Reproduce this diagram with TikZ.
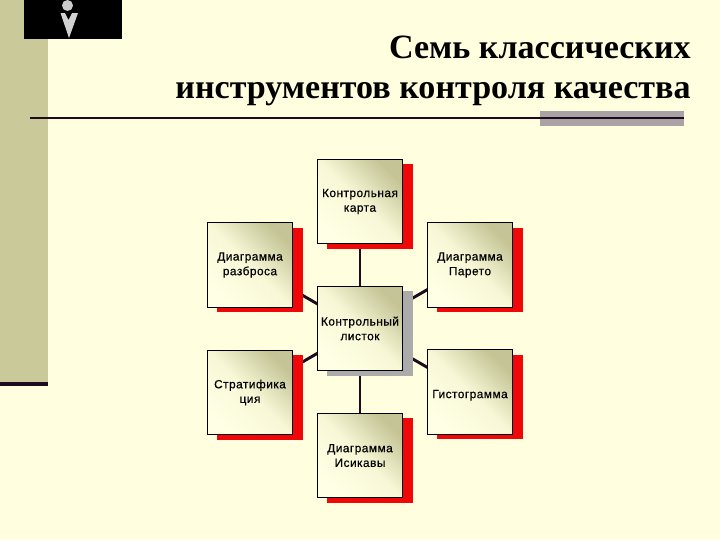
\documentclass[tikz,border=0pt]{standalone}
\usepackage{fontspec}
\setmainfont{Liberation Serif}
\newfontfamily\boxfont[FakeBold=0.5,LetterSpace=4]{Liberation Sans}
\usetikzlibrary{shadows,backgrounds}
\definecolor{pagebg}{HTML}{FFFFE0}
\definecolor{band}{HTML}{C9C99A}
\definecolor{darkline}{HTML}{1E0A1E}
\definecolor{barbg}{HTML}{A9A3A6}
\definecolor{olive}{HTML}{C4C496}
\definecolor{redsh}{HTML}{F00808}
\definecolor{graysh}{HTML}{ABABAB}
\tikzset{
  x=0.75pt,y=-0.75pt,
  toolbox/.style={draw=black,line width=0.6pt,minimum width=64pt,minimum height=63.5pt,inner sep=0pt,
    align=center,font=\boxfont\fontsize{8.9}{11}\selectfont,text=black,
    top color=olive,bottom color=pagebg!85!white,middle color=pagebg!88!olive,shading angle=-45},
  textdown/.style={execute at begin node={\rule{0pt}{11pt}}},
  redshadow/.style={general shadow={shadow xshift=7.5pt,shadow yshift=-3.75pt,fill=redsh,draw=none}},
  grayshadow/.style={general shadow={shadow xshift=7.5pt,shadow yshift=-3.75pt,fill=graysh,draw=none}},
  link/.style={draw=darkline,line width=2.2pt},
  titletext/.style={anchor=base east,font=\bfseries\fontsize{25.55}{30}\selectfont,text=black,inner sep=0pt}
}
\begin{document}
\begin{tikzpicture}
\useasboundingbox (0,0) rectangle (720,540);
\node[toolbox,redshadow,textdown] (karta) at (360,201.5) {Контрольная\\карта};
\node[toolbox,redshadow,textdown] (razbros) at (250,265) {Диаграмма\\разброса};
\node[toolbox,redshadow,textdown] (pareto) at (470,265) {Диаграмма\\Парето};
\node[toolbox,grayshadow] (listok) at (360,328.5) {Контрольный\\листок};
\node[toolbox,redshadow,textdown] (strat) at (250,392.5) {Стратифика\\ция};
\node[toolbox,redshadow,textdown] (gisto) at (470,392) {Гистограмма};
\node[toolbox,redshadow,textdown] (isikava) at (360,455.5) {Диаграмма\\Исикавы};
\node[titletext] (title1) at (691,58) {Семь классических};
\node[titletext] (title2) at (691,98) {инструментов контроля качества};
\begin{scope}[on background layer]
\fill[pagebg] (0,0) rectangle (720,540);
\fill[band] (0,0) rectangle (48,383);
\fill[darkline] (0,381.5) rectangle (48,386);
\fill[barbg] (540,111) rectangle (684,125.5);
\fill[black] (24,0) rectangle (122,39);
\fill[gray!40] (67.5,5.5) ellipse (5.5 and 5.5);
\fill[gray!35] (60.5,13) -- (65,13) -- (68.5,20) -- (72,13) -- (78,13) -- (69,38) -- cycle;
\draw[darkline,line width=1.5pt] (30,118) -- (684,118);
\draw[link] (listok.center) -- (karta.center);
\draw[link] (listok.center) -- (razbros.center);
\draw[link] (listok.center) -- (pareto.center);
\draw[link] (listok.center) -- (strat.center);
\draw[link] (listok.center) -- (gisto.center);
\draw[link] (listok.center) -- (isikava.center);
\end{scope}
\end{tikzpicture}
\end{document}
